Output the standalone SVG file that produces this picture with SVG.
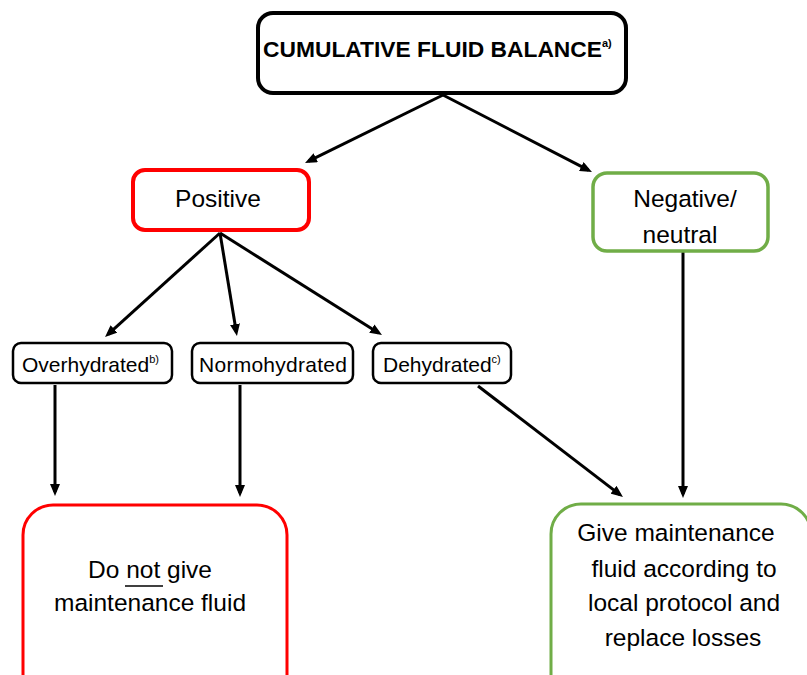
<svg xmlns="http://www.w3.org/2000/svg" width="807" height="675" viewBox="0 0 807 675">
<defs>
<style>
text{font-family:"Liberation Sans",Arial,sans-serif;fill:#000;}
.t24{font-size:24.5px;}
.t20{font-size:21px;}
.sup{font-size:11px;}
.box{fill:#fff;}
.blk{stroke:#000;}
.red{stroke:#FF0000;}
.grn{stroke:#70AD47;}
.conn line{stroke:#000;stroke-width:3;marker-end:url(#ah);}
</style>
<marker id="ah" markerUnits="userSpaceOnUse" markerWidth="12" markerHeight="10" refX="8" refY="5" orient="auto">
<path d="M0,0 L12,5 L0,10 z" fill="#000"/>
</marker>
</defs>
<rect width="807" height="675" fill="#fff"/>
<g id="connectors" class="conn">
<line x1="443" y1="95" x2="308.6" y2="161.2"/>
<line x1="443" y1="95" x2="588.4" y2="170.2"/>
<line x1="220" y1="233" x2="108" y2="334.3"/>
<line x1="220" y1="233" x2="236.3" y2="332"/>
<line x1="220" y1="233" x2="378.6" y2="332.9"/>
<line x1="55" y1="385" x2="55" y2="492"/>
<line x1="240" y1="385" x2="240" y2="493"/>
<line x1="478" y1="386" x2="619.8" y2="494.6"/>
<line x1="683" y1="252" x2="683" y2="494"/>
</g>
<g id="cumulative">
<rect class="box blk" x="258" y="13" width="368" height="80" rx="15" stroke-width="4"/>
<text x="263" y="57" style="font-size:22.8px;font-weight:bold">CUMULATIVE FLUID BALANCE<tspan class="sup" dy="-10" font-weight="bold">a)</tspan></text>
</g>
<g id="positive">
<rect class="box red" x="133" y="170" width="176" height="60" rx="12" stroke-width="4"/>
<text class="t24" x="218" y="207" text-anchor="middle">Positive</text>
</g>
<g id="negative">
<rect class="box grn" x="593" y="173" width="175" height="78" rx="14" stroke-width="3.5"/>
<text class="t24" x="685" y="207" text-anchor="middle">Negative/</text>
<text class="t24" x="680" y="243" text-anchor="middle">neutral</text>
</g>
<g id="overhydrated">
<rect class="box blk" x="13" y="343" width="159" height="40" rx="8" stroke-width="2.5"/>
<text class="t20" x="22" y="372">Overhydrated<tspan class="sup" dy="-9">b)</tspan></text>
</g>
<g id="normohydrated">
<rect class="box blk" x="192" y="343" width="161" height="40" rx="8" stroke-width="2.5"/>
<text class="t20" x="199" y="372" textLength="148">Normohydrated</text>
</g>
<g id="dehydrated">
<rect class="box blk" x="373" y="343" width="138" height="40" rx="8" stroke-width="2.5"/>
<text class="t20" x="383" y="372">Dehydrated<tspan class="sup" dy="-9">c)</tspan></text>
</g>
<g id="do-not-give">
<rect class="box red" x="23" y="505" width="264" height="200" rx="30" stroke-width="3"/>
<text class="t24" x="150" y="578" text-anchor="middle">Do not give</text>
<line x1="125" y1="586" x2="163" y2="586" stroke="#000" stroke-width="1.5"/>
<text class="t24" x="150" y="611" text-anchor="middle">maintenance fluid</text>
</g>
<g id="give-maintenance">
<rect class="box grn" x="551" y="504" width="260" height="200" rx="30" stroke-width="3"/>
<text class="t24" x="676" y="541" text-anchor="middle">Give maintenance</text>
<text class="t24" x="684" y="577" text-anchor="middle">fluid according to</text>
<text class="t24" x="684" y="611" text-anchor="middle">local protocol and</text>
<text class="t24" x="683" y="646" text-anchor="middle">replace losses</text>
</g>
</svg>
